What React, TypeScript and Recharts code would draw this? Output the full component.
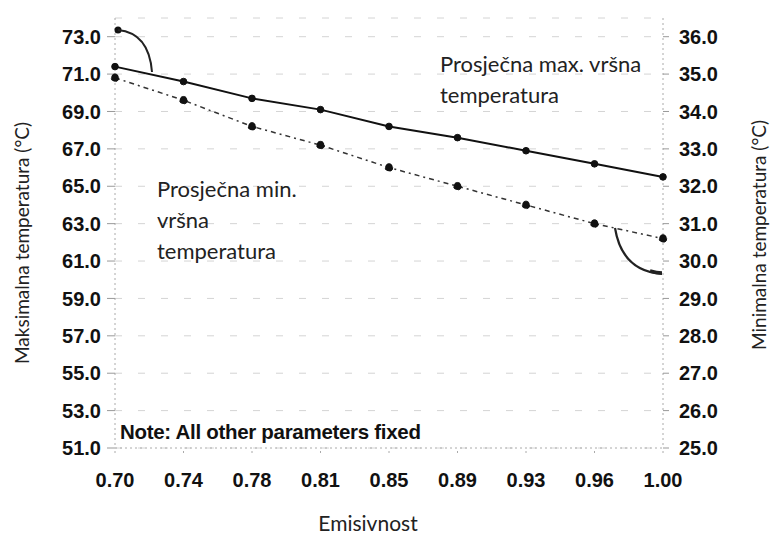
import React from "react";
import {
  LineChart,
  Line,
  XAxis,
  YAxis,
  CartesianGrid,
} from "recharts";

const emisivnost = ["0.70", "0.74", "0.78", "0.81", "0.85", "0.89", "0.93", "0.96", "1.00"];
// prosječna max. vršna temperatura (lijeva os, °C)
const maxTemp = [71.4, 70.6, 69.7, 69.1, 68.2, 67.6, 66.9, 66.2, 65.5];
// prosječna min. vršna temperatura (desna os, °C)
const minTemp = [34.9, 34.3, 33.6, 33.1, 32.5, 32.0, 31.5, 31.0, 30.6];

const leftTicks = [51, 53, 55, 57, 59, 61, 63, 65, 67, 69, 71, 73];
const rightTicks = [25, 26, 27, 28, 29, 30, 31, 32, 33, 34, 35, 36];

const data = emisivnost.map((e, i) => ({ e, max: maxTemp[i], min: minTemp[i] }));

const W = 772;
const H = 535;
const tickFont = {
  fontFamily: "'Liberation Sans', Arial, sans-serif",
  fontWeight: 700,
  fontSize: 20,
  fill: "#111",
};
const labelFont = "Lato, 'Open Sans', sans-serif";

export default function App() {
  return (
    <div style={{ position: "absolute", left: 0, top: 0, width: W, height: H, background: "#fff" }}>
      <LineChart
        width={W}
        height={H}
        data={data}
        margin={{ top: 18, right: 0, bottom: 0, left: 0 }}
      >
        <CartesianGrid
          yAxisId="left"
          vertical={false}
          stroke="#d4d4d4"
          strokeDasharray="7 16"
        />
        <XAxis
          dataKey="e"
          height={87}
          interval={0}
          tick={tickFont}
          tickSize={5}
          tickMargin={20}
          stroke="#aaa"
          strokeDasharray="2 3"
        />
        <XAxis
          xAxisId="top"
          dataKey="e"
          orientation="top"
          height={0}
          interval={0}
          tick={false}
          tickSize={5}
          axisLine={{ stroke: "#666", strokeWidth: 1.5 }}
          tickLine={{ stroke: "#666", strokeWidth: 1.5 }}
        />
        <YAxis
          yAxisId="left"
          width={115}
          domain={[51, 74]}
          ticks={leftTicks}
          interval={0}
          allowDataOverflow
          tickFormatter={(v: number) => v.toFixed(1)}
          tick={tickFont}
          tickSize={8}
          tickMargin={6}
          stroke="#999"
          axisLine={{ stroke: "#aaa", strokeDasharray: "2 3" }}
        />
        <YAxis
          yAxisId="right"
          orientation="right"
          width={109}
          domain={[25, 36.5]}
          ticks={rightTicks}
          interval={0}
          allowDataOverflow
          tickFormatter={(v: number) => v.toFixed(1)}
          tick={tickFont}
          tickSize={6}
          tickMargin={10}
          stroke="#999"
          axisLine={{ stroke: "#aaa", strokeDasharray: "2 3" }}
        />
        <Line
          yAxisId="left"
          dataKey="max"
          stroke="#111"
          strokeWidth={2}
          dot={{ r: 3.3, fill: "#111", stroke: "#111", strokeWidth: 1 }}
          isAnimationActive={false}
        />
        <Line
          yAxisId="right"
          dataKey="min"
          stroke="#333"
          strokeWidth={1.5}
          strokeDasharray="5 4 2 4"
          dot={{ r: 3.8, fill: "#111", stroke: "#111", strokeWidth: 1 }}
          isAnimationActive={false}
        />
      </LineChart>
      <svg
        width={W}
        height={H}
        style={{ position: "absolute", left: 0, top: 0, pointerEvents: "none" }}
      >
        {/* strelice do osi */}
        <circle cx={118} cy={30} r={3.5} fill="#111" />
        <path d="M118,30 Q149,33 152,72" fill="none" stroke="#222" strokeWidth={2} />
        <path d="M615,228 Q622,271 662,274" fill="none" stroke="#222" strokeWidth={2.2} />
        <path d="M650,271 Q657,273 662,273" fill="none" stroke="#222" strokeWidth={3.5} />

        <text x={440} y={72} fontFamily={labelFont} fontSize={22} fill="#222">
          Prosječna max. vršna
        </text>
        <text x={440} y={103} fontFamily={labelFont} fontSize={22} fill="#222">
          temperatura
        </text>
        <text x={157} y={197} fontFamily={labelFont} fontSize={22} fill="#222">
          Prosječna min.
        </text>
        <text x={157} y={228} fontFamily={labelFont} fontSize={22} fill="#222">
          vršna
        </text>
        <text x={157} y={259} fontFamily={labelFont} fontSize={22} fill="#222">
          temperatura
        </text>
        <text
          x={120}
          y={439}
          fontFamily="'Liberation Sans', Arial, sans-serif"
          fontWeight={700}
          fontSize={20.5}
          letterSpacing={-0.3}
          fill="#111"
        >
          Note: All other parameters fixed
        </text>
        <text x={368} y={531} textAnchor="middle" fontFamily={labelFont} fontSize={21} fill="#222">
          Emisivnost
        </text>
        <text
          transform="translate(29,243) rotate(-90)"
          textAnchor="middle"
          fontFamily={labelFont}
          fontSize={19}
          fill="#222"
        >
          Maksimalna temperatura (°C)
        </text>
        <text
          transform="translate(766,235) rotate(-90)"
          textAnchor="middle"
          fontFamily={labelFont}
          fontSize={19}
          fill="#222"
        >
          Minimalna temperatura (°C)
        </text>
      </svg>
    </div>
  );
}
